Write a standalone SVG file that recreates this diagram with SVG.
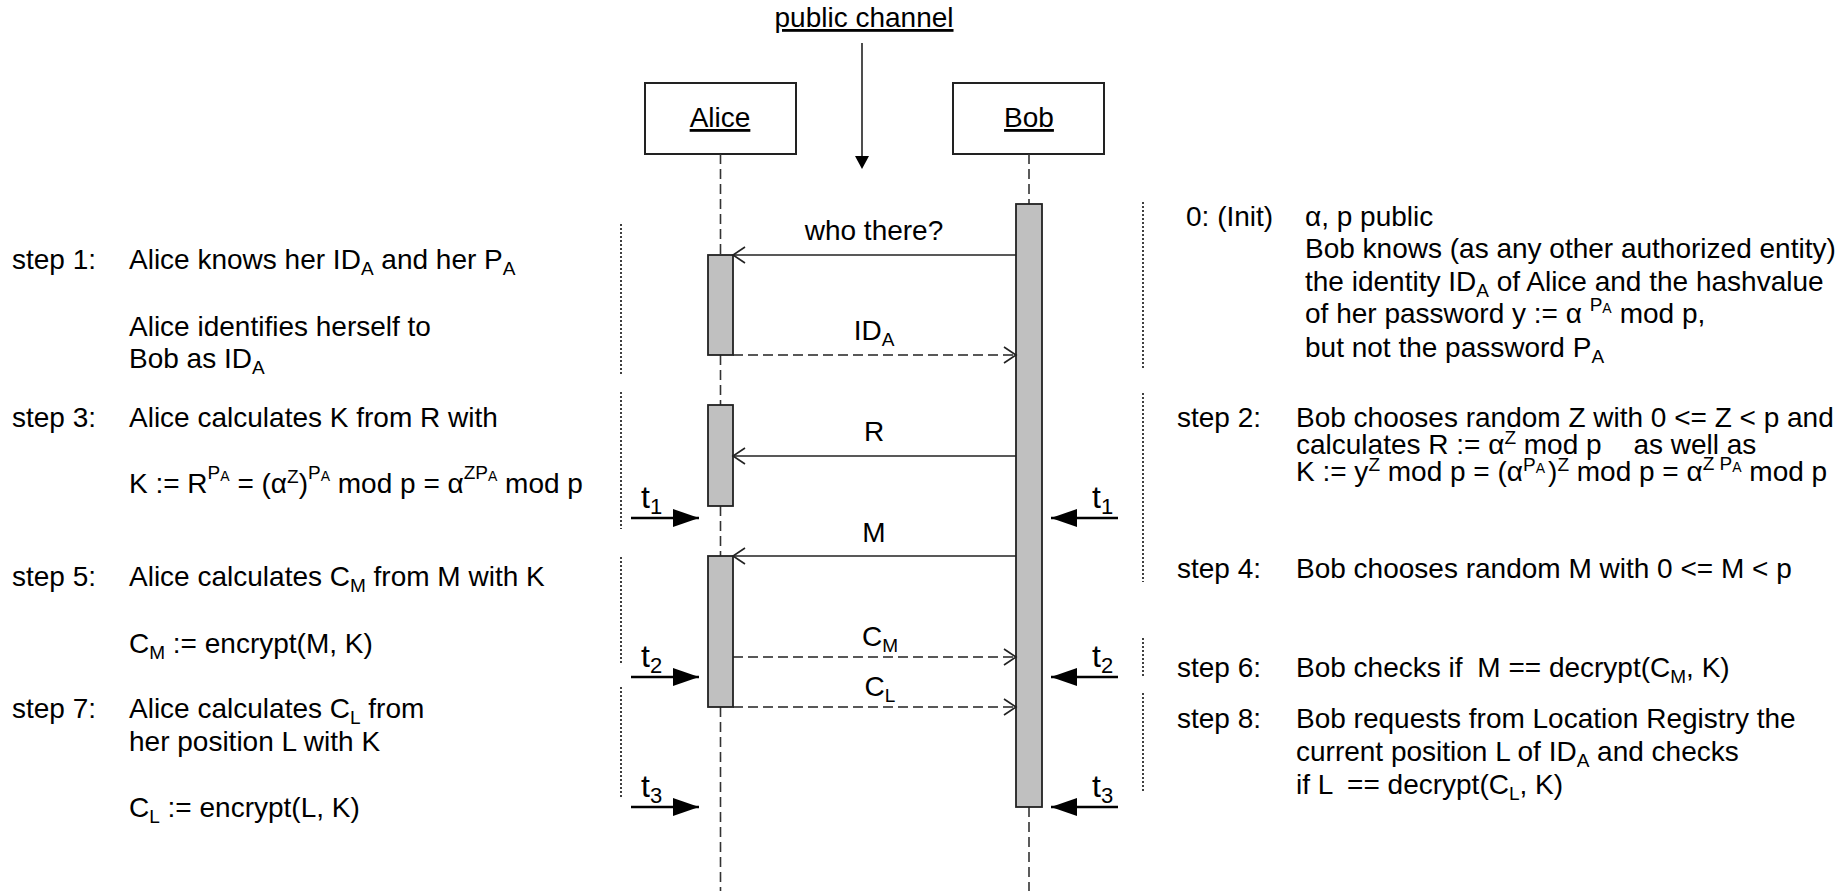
<svg xmlns="http://www.w3.org/2000/svg" width="1842" height="891" viewBox="0 0 1842 891">
  <defs>
    <style>
      text { font-family: "Liberation Sans", Arial, sans-serif; font-size: 28px; fill: #000; }
      .s { font-size: 19px; }
      .ss { font-size: 14px; }
      .t { font-size: 32px; }
      .tsub { font-size: 22px; }
      .mid { text-anchor: middle; }
      .ul { text-decoration: underline; }
      .box { fill: #fff; stroke: #222; stroke-width: 2; }
      .bar { fill: #c0c0c0; stroke: #222; stroke-width: 1.8; }
      .life { stroke: #333; stroke-width: 1.6; stroke-dasharray: 10 5; fill: none; }
      .sep { stroke: #111; stroke-width: 1.6; stroke-dasharray: 2 2; fill: none; }
      .msg { stroke: #222; stroke-width: 1.6; fill: none; marker-end: url(#open); }
      .dash { stroke-dasharray: 10 5; }
      .time { stroke: #000; stroke-width: 2.5; fill: none; marker-end: url(#solid); }
    </style>
    <marker id="open" markerUnits="userSpaceOnUse" markerWidth="16" markerHeight="20" refX="14" refY="10" orient="auto" overflow="visible">
      <path d="M2,2 L14,10 L2,18" fill="none" stroke="#222" stroke-width="1.6"/>
    </marker>
    <marker id="solid" markerUnits="userSpaceOnUse" markerWidth="28" markerHeight="20" refX="26" refY="10" orient="auto" overflow="visible">
      <path d="M0,1 L26,10 L0,19 Z" fill="#000"/>
    </marker>
  </defs>

  <!-- channel label and pointer -->
  <g id="channel">
    <text class="mid ul" x="864" y="27">public channel</text>
    <line x1="862" y1="43" x2="862" y2="158" stroke="#222" stroke-width="1.6"/>
    <path d="M855,156 L869,156 L862,169 Z" fill="#000"/>
  </g>

  <!-- participants -->
  <g id="alice">
    <rect class="box" x="645" y="83" width="151" height="71"/>
    <text class="mid ul" x="720" y="127">Alice</text>
  </g>
  <g id="bob">
    <rect class="box" x="953" y="83" width="151" height="71"/>
    <text class="mid ul" x="1029" y="127">Bob</text>
  </g>

  <!-- lifelines -->
  <g id="lifelines">
    <line class="life" x1="720.5" y1="154" x2="720.5" y2="254"/>
    <line class="life" x1="720.5" y1="355" x2="720.5" y2="405"/>
    <line class="life" x1="720.5" y1="506" x2="720.5" y2="556"/>
    <line class="life" x1="720.5" y1="707" x2="720.5" y2="891"/>
    <line class="life" x1="1029" y1="154" x2="1029" y2="204"/>
    <line class="life" x1="1029" y1="807" x2="1029" y2="891"/>
  </g>

  <!-- activation bars -->
  <g id="activations">
    <rect class="bar" x="1016" y="204" width="26" height="603"/>
    <rect class="bar" x="708" y="255" width="25" height="100"/>
    <rect class="bar" x="708" y="405" width="25" height="101"/>
    <rect class="bar" x="708" y="556" width="25" height="151"/>
  </g>

  <!-- phase separators -->
  <g id="separators">
    <line class="sep" x1="621" y1="224" x2="621" y2="374"/>
    <line class="sep" x1="621" y1="392" x2="621" y2="529"/>
    <line class="sep" x1="621" y1="557" x2="621" y2="664"/>
    <line class="sep" x1="621" y1="687" x2="621" y2="799"/>
    <line class="sep" x1="1143" y1="202" x2="1143" y2="369"/>
    <line class="sep" x1="1143" y1="393" x2="1143" y2="582"/>
    <line class="sep" x1="1143" y1="638" x2="1143" y2="678"/>
    <line class="sep" x1="1143" y1="693" x2="1143" y2="793"/>
  </g>

  <!-- messages -->
  <g id="connectors">
    <line class="msg" x1="1016" y1="255" x2="733" y2="255"/>
    <line class="msg dash" x1="733" y1="355" x2="1016" y2="355"/>
    <line class="msg" x1="1016" y1="456" x2="733" y2="456"/>
    <line class="msg" x1="1016" y1="556" x2="733" y2="556"/>
    <line class="msg dash" x1="733" y1="657" x2="1016" y2="657"/>
    <line class="msg dash" x1="733" y1="707" x2="1016" y2="707"/>
    <line class="time" x1="631" y1="518" x2="699" y2="518"/>
    <line class="time" x1="631" y1="677" x2="699" y2="677"/>
    <line class="time" x1="631" y1="807" x2="699" y2="807"/>
    <line class="time" x1="1118" y1="518" x2="1051" y2="518"/>
    <line class="time" x1="1118" y1="677" x2="1051" y2="677"/>
    <line class="time" x1="1118" y1="807" x2="1051" y2="807"/>
  </g>

  <!-- message labels -->
  <g id="labels">
    <text class="mid" x="874" y="240">who there?</text>
    <text class="mid" x="874" y="340">ID<tspan class="s" dy="6">A</tspan></text>
    <text class="mid" x="874" y="441">R</text>
    <text class="mid" x="874" y="542">M</text>
    <text class="mid" x="880" y="646">C<tspan class="s" dy="6">M</tspan></text>
    <text class="mid" x="880" y="696">C<tspan class="s" dy="6">L</tspan></text>
  </g>

  <!-- time marks -->
  <g id="times">
    <text class="t" x="641" y="508">t<tspan class="tsub" dy="6">1</tspan></text>
    <text class="t" x="641" y="667">t<tspan class="tsub" dy="6">2</tspan></text>
    <text class="t" x="641" y="797">t<tspan class="tsub" dy="6">3</tspan></text>
    <text class="t" x="1092" y="508">t<tspan class="tsub" dy="6">1</tspan></text>
    <text class="t" x="1092" y="667">t<tspan class="tsub" dy="6">2</tspan></text>
    <text class="t" x="1092" y="797">t<tspan class="tsub" dy="6">3</tspan></text>
  </g>

  <!-- Alice's steps -->
  <g id="alice-steps">
    <text x="12" y="269">step 1:</text>
    <text x="129" y="269">Alice knows her ID<tspan class="s" dy="6">A</tspan><tspan dy="-6"> and her P</tspan><tspan class="s" dy="6">A</tspan></text>
    <text x="129" y="336">Alice identifies herself to</text>
    <text x="129" y="368">Bob as ID<tspan class="s" dy="6">A</tspan></text>
    <text x="12" y="427">step 3:</text>
    <text x="129" y="427">Alice calculates K from R with</text>
    <text x="129" y="493">K := R<tspan class="s" dy="-14">P</tspan><tspan class="ss" dy="2">A</tspan><tspan dy="12"> = (α</tspan><tspan class="s" dy="-10">Z</tspan><tspan dy="10">)</tspan><tspan class="s" dy="-14">P</tspan><tspan class="ss" dy="2">A</tspan><tspan dy="12"> mod p = α</tspan><tspan class="s" dy="-14">ZP</tspan><tspan class="ss" dy="2">A</tspan><tspan dy="12"> mod p</tspan></text>
    <text x="12" y="586">step 5:</text>
    <text x="129" y="586">Alice calculates C<tspan class="s" dy="6">M</tspan><tspan dy="-6"> from M with K</tspan></text>
    <text x="129" y="653">C<tspan class="s" dy="6">M</tspan><tspan dy="-6"> := encrypt(M, K)</tspan></text>
    <text x="12" y="718">step 7:</text>
    <text x="129" y="718">Alice calculates C<tspan class="s" dy="6">L</tspan><tspan dy="-6"> from</tspan></text>
    <text x="129" y="751">her position L with K</text>
    <text x="129" y="817">C<tspan class="s" dy="6">L</tspan><tspan dy="-6"> := encrypt(L, K)</tspan></text>
  </g>

  <!-- Bob's steps -->
  <g id="bob-steps">
    <text x="1186" y="226">0: (Init)</text>
    <text x="1305" y="226">α, p public</text>
    <text x="1305" y="258">Bob knows (as any other authorized entity)</text>
    <text x="1305" y="291">the identity ID<tspan class="s" dy="6">A</tspan><tspan dy="-6"> of Alice and the hashvalue</tspan></text>
    <text x="1305" y="323">of her password y := α <tspan class="s" dy="-12">P</tspan><tspan class="ss" dy="2">A</tspan><tspan dy="10" dx="8">mod p,</tspan></text>
    <text x="1305" y="357">but not the password P<tspan class="s" dy="6">A</tspan></text>
    <text x="1177" y="427">step 2:</text>
    <text x="1296" y="427">Bob chooses random Z with 0 &lt;= Z &lt; p and</text>
    <text x="1296" y="454">calculates R := α<tspan class="s" dy="-10">Z</tspan><tspan dy="10"> mod p </tspan><tspan dx="24">as well as</tspan></text>
    <text x="1296" y="481">K := y<tspan class="s" dy="-10">Z</tspan><tspan dy="10"> mod p = (α</tspan><tspan class="s" dy="-10">P</tspan><tspan class="ss" dy="2">A</tspan><tspan dy="8" dx="3">)</tspan><tspan class="s" dy="-10">Z</tspan><tspan dy="10"> mod p = α</tspan><tspan class="s" dy="-11">Z P</tspan><tspan class="ss" dy="2">A</tspan><tspan dy="9"> mod p</tspan></text>
    <text x="1177" y="578">step 4:</text>
    <text x="1296" y="578">Bob chooses random M with 0 &lt;= M &lt; p</text>
    <text x="1177" y="677">step 6:</text>
    <text x="1296" y="677">Bob checks if <tspan dx="7">M == decrypt(C</tspan><tspan class="s" dy="6">M</tspan><tspan dy="-6">, K)</tspan></text>
    <text x="1177" y="728">step 8:</text>
    <text x="1296" y="728">Bob requests from Location Registry the</text>
    <text x="1296" y="761">current position L of ID<tspan class="s" dy="6">A</tspan><tspan dy="-6"> and checks</tspan></text>
    <text x="1296" y="794">if L <tspan dx="7">== decrypt(C</tspan><tspan class="s" dy="6">L</tspan><tspan dy="-6">, K)</tspan></text>
  </g>
</svg>
